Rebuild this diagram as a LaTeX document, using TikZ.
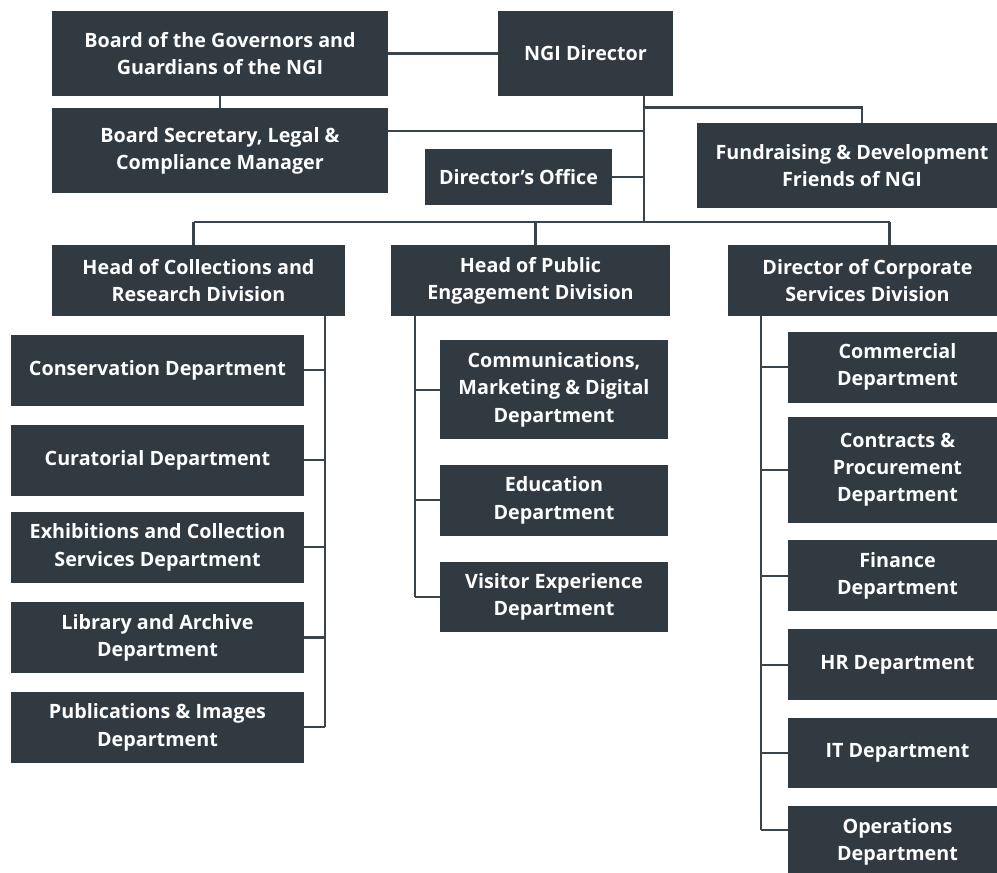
\documentclass[tikz,border=0pt]{standalone}
\usepackage{fontspec}
\setmainfont{Open Sans}
\usetikzlibrary{positioning}
\definecolor{slate}{HTML}{303A40}
\definecolor{wire}{HTML}{3A444A}

\begin{document}
\begin{tikzpicture}[x=0.75pt,y=-0.75pt,
	unit/.style={fill=slate,text=white,align=center,inner sep=0pt,
		font=\fontsize{14.8}{20.4}\selectfont\bfseries},
	link/.style={draw=wire,line width=1.6pt}]
		\useasboundingbox (0,0) rectangle (997,873);
		\draw (220,53.5) node [unit,minimum width=252pt,minimum height=63.75pt] (gov){Board of the Governors and\\Guardians of the NGI};
		\draw (585.5,53.5) node [unit,minimum width=131.25pt,minimum height=63.75pt] (dir){NGI Director};
		\draw (220,150.5) node [unit,minimum width=252pt,minimum height=63.75pt] (sec){Board Secretary, Legal \&\\Compliance Manager};
		\draw (518.5,177) node [unit,minimum width=140.25pt,minimum height=42pt] (off){Director’s Office};
		\draw (852,165.5) node [unit,minimum width=232.5pt,minimum height=63.75pt] (fund){Fundraising \& Development\\Friends of NGI};

		\draw (198.5,280.5) node [unit,minimum width=219.75pt,minimum height=53.25pt] (colres){Head of Collections and\\Research Division};
		\draw (530.5,280.5) node [unit,minimum width=209.25pt,minimum height=53.25pt] (engage){Head of Public\\Engagement Division};
		\draw (867.5,280.5) node [unit,minimum width=209.25pt,minimum height=53.25pt] (corp){Director of Corporate\\Services Division};

		\draw (157.5,370.3) node [unit,minimum width=219.75pt,minimum height=53pt] (cons){Conservation Department};
		\draw (157.5,460.3) node [unit,minimum width=219.75pt,minimum height=53pt] (cur){Curatorial Department};
		\draw (157.5,547.3) node [unit,minimum width=219.75pt,minimum height=53pt] (exh){Exhibitions and Collection\\Services Department};
		\draw (157.5,637.5) node [unit,minimum width=219.75pt,minimum height=53pt] (lib){Library and Archive\\Department};
		\draw (157.5,727.3) node [unit,minimum width=219.75pt,minimum height=53pt] (img){Publications \& Images\\Department};

		\draw (554,389.7) node [unit,minimum width=171pt,minimum height=74.25pt] (comms){Communications,\\Marketing \& Digital\\Department};
		\draw (554,500.3) node [unit,minimum width=171pt,minimum height=53pt] (edu){Education\\Department};
		\draw (554,597) node [unit,minimum width=171pt,minimum height=53pt] (visit){Visitor Experience\\Department};

		\draw (897.5,367.2) node [unit,minimum width=164.25pt,minimum height=53.25pt] (comm){Commercial\\Department};
		\draw (897.5,470) node [unit,minimum width=164.25pt,minimum height=79.5pt] (proc){Contracts \&\\Procurement\\Department};
		\draw (897.5,575.6) node [unit,minimum width=164.25pt,minimum height=53pt] (fin){Finance\\Department};
		\draw (897.5,664.8) node [unit,minimum width=164.25pt,minimum height=53pt] (hr){HR Department};
		\draw (897.5,753) node [unit,minimum width=164.25pt,minimum height=53pt] (it){IT Department};
		\draw (897.5,841.7) node [unit,minimum width=164.25pt,minimum height=53pt] (ops){Operations\\Department};

		\coordinate (bus) at (644,222);
		\coordinate (fbend) at (644,107.5);
		\coordinate (coldrop) at ([xshift=-3.75pt]colres.north);
		\coordinate (engdrop) at ([xshift=3.75pt]engage.north);
		\coordinate (corpdrop) at ([xshift=16.5pt]corp.north);
		\coordinate (colline) at ([xshift=-15pt]colres.south east);
		\coordinate (engline) at ([xshift=18pt]engage.south west);
		\coordinate (corpline) at ([xshift=24.75pt]corp.south west);

		\draw [link]
		(gov) -- (dir)
		(gov) -- (sec)
		(dir.south -| bus) -- (bus)
		(fbend) -| ([xshift=7.5pt]fund.north)
		([yshift=14.6pt]sec.east) -- ([yshift=14.6pt]sec.east -| bus)
		(off) -- (off -| bus)
		(coldrop |- bus) -- (corpdrop |- bus)
		(coldrop |- bus) -- (coldrop)
		(engdrop |- bus) -- (engdrop)
		(corpdrop |- bus) -- (corpdrop)
		(colline) -- (colline |- img)
		(engline) -- (engline |- visit)
		(corpline) -- ([yshift=8.7pt]corpline |- ops);

		\foreach \n in {cons,cur,exh,lib,img}
			\draw [link] (\n.east) -- (\n.east -| colline);
		\foreach \n in {comms,edu,visit}
			\draw [link] (\n.west) -- (\n.west -| engline);
		\foreach \n in {comm,proc,fin,hr,it}
			\draw [link] (\n.west) -- (\n.west -| corpline);
		\draw [link] ([yshift=8.7pt]ops.west) -- ([yshift=8.7pt]ops.west -| corpline);
	\end{tikzpicture}
\end{document}
